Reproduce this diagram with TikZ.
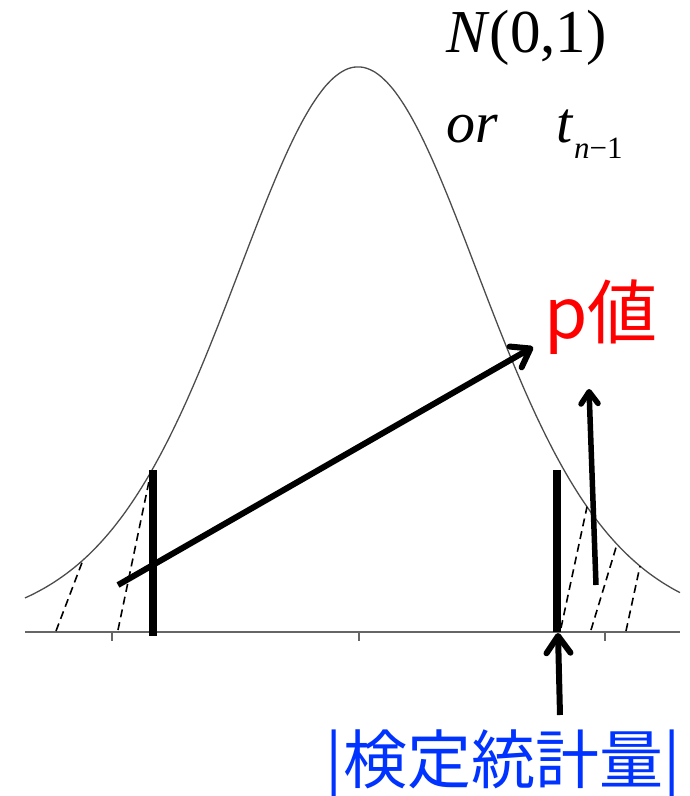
\documentclass[tikz,border=0pt]{standalone}
\usepackage{fontspec}
\setmainfont{Liberation Serif}
\newfontfamily\cjk{Noto Sans CJK JP}
\usetikzlibrary{arrows.meta}
\definecolor{tblue}{RGB}{0,51,255}
\definecolor{tred}{RGB}{255,0,0}
\begin{document}
\begin{tikzpicture}[x=1pt,y=-1pt,
  declare function={f(\x)=632-565*(1+((\x-358)/129)^2/10)^(-5.5);},
  curveline/.style={draw=black!70, line width=1.3pt},
  axisline/.style={draw=black!60, line width=1.5pt},
  tickline/.style={draw=black!60, line width=1.5pt},
  tailline/.style={line width=1.6pt, dash pattern=on 8pt off 5pt},
  barline/.style={line width=7.5pt},
  bigarrow/.style={line width=6pt, -{Straight Barb[length=17pt,width=24pt,line cap=round,line join=round]}},
  smallarrow/.style={line width=5.5pt, -{Straight Barb[length=12pt,width=17pt,line cap=round,line join=round]}},
  label/.style={inner sep=0pt, anchor=base west}
]
\useasboundingbox (0,0) rectangle (689,796);
% axis and ticks
\coordinate (axL) at (25,632);
\coordinate (axR) at (680,632);
\draw[axisline] (axL) -- (axR);
\foreach \t/\n in {112/ta,359/tb,605/tc}{
  \coordinate (\n1) at (\t,632);
  \coordinate (\n2) at (\t,641);
  \draw[tickline] (\n1) -- (\n2);
}
% density curve
\draw[curveline] plot[domain=25:680, samples=220, smooth] (\x,{f(\x)});
% dashed tail lines
\coordinate (d1a) at (56,631);  \coordinate (d1b) at (83,{f(83)});
\coordinate (d2a) at (118,630); \coordinate (d2b) at (151,{f(151)});
\coordinate (d3a) at (561,628); \coordinate (d3b) at (587,{f(587)});
\coordinate (d4a) at (591,630); \coordinate (d4b) at (617,{f(617)});
\coordinate (d5a) at (626,631); \coordinate (d5b) at (640,{f(640)});
\foreach \d in {1,...,5}{ \draw[tailline] (d\d a) -- (d\d b); }
% thick bars
\coordinate (b1a) at (153,470); \coordinate (b1b) at (153,636);
\coordinate (b2a) at (557,470); \coordinate (b2b) at (557,632);
\draw[barline] (b1a) -- (b1b);
\draw[barline] (b2a) -- (b2b);
% texts
\node[label, font=\fontsize{61}{62}\selectfont] (N) at (446,52) {\textit{N}(0,1)};
\node[label, font=\fontsize{58}{60}\selectfont\itshape] (or) at (446,142) {or};
\node[label, font=\fontsize{58}{60}\selectfont\itshape] (t) at (556,142) {t};
\node[label, font=\fontsize{31}{32}\selectfont] (sub) at (574,158) {\textit{n}−1};
\node[inner sep=0pt, font=\cjk\fontsize{70}{72}\selectfont, text=tred] (pv) at (601,317) {p値};
\node[inner sep=0pt, font=\cjk\fontsize{64}{66}\selectfont, text=tblue] (ts) at (503,766) {|検定統計量|};
% arrows
\coordinate (a1s) at (118,585); \coordinate (a1e) at (533,347);
\draw[bigarrow] (a1s) -- (a1e);
\coordinate (a2s) at (560,715); \coordinate (a2e) at (558,633);
\draw[bigarrow] (a2s) -- (a2e);
\coordinate (a3s) at (596,585); \coordinate (a3e) at (589,389);
\draw[smallarrow] (a3s) -- (a3e);
\end{tikzpicture}
\end{document}
